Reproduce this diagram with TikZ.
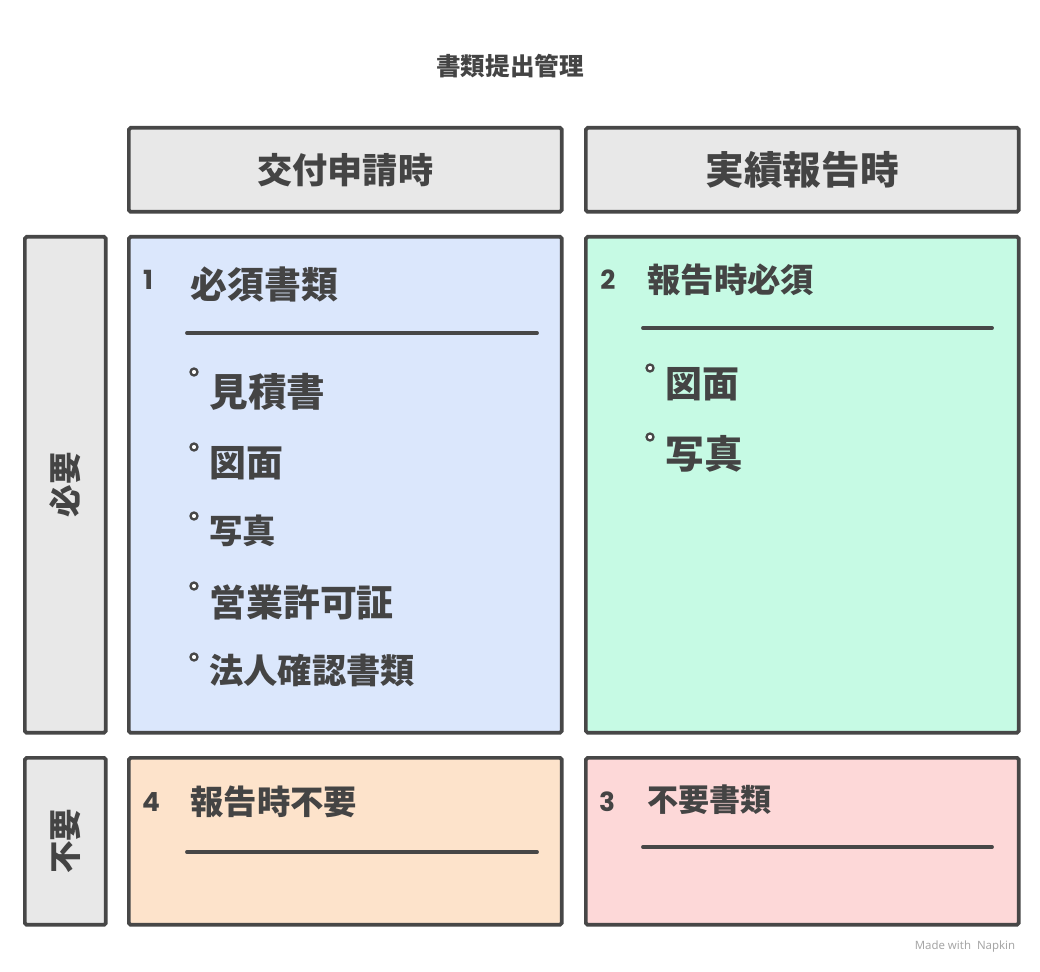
\documentclass[tikz,border=0pt]{standalone}
\usepackage{fontspec}
\setmainfont{Noto Sans CJK JP}
\newfontfamily\wmfont{Noto Sans}
\newfontfamily\numfont{Poppins}
\usetikzlibrary{positioning}
\definecolor{ink}{HTML}{444444}
\definecolor{edge}{HTML}{474747}
\definecolor{headgray}{HTML}{E8E8E8}
\definecolor{qblue}{HTML}{DBE7FC}
\definecolor{qgreen}{HTML}{C6FAE4}
\definecolor{qorange}{HTML}{FDE3CB}
\definecolor{qpink}{HTML}{FDD8D8}

\begin{document}
\begin{tikzpicture}[
  x=0.02cm, y=-0.02cm,
  panel/.style={draw=edge, line width=2.1pt, rounded corners=1pt, anchor=north west,
                inner sep=0pt},
  head/.style={panel, fill=headgray, minimum width=8.66cm, minimum height=1.68cm,
               font=\fontsize{20}{22}\selectfont\bfseries, text=ink},
  side/.style={panel, fill=headgray, minimum width=1.62cm},
  quad/.style={panel, minimum width=8.66cm},
  num/.style={font=\numfont\fontsize{15}{16}\selectfont\bfseries, text=ink},
  qtitle/.style={anchor=west, inner sep=0pt, font=\fontsize{19}{21}\selectfont\bfseries, text=ink},
  item/.style={anchor=west, inner sep=0pt, font=\fontsize{21}{23}\selectfont\bfseries, text=ink},
  dot/.style={circle, draw=edge, line width=1.3pt, fill=white, inner sep=0pt, minimum size=0.14cm},
  rule/.style={draw=edge, line width=2.2pt, line cap=round}
]
\useasboundingbox (0,0) rectangle (1040,972);

\node[font=\fontsize{14}{16}\selectfont\bfseries, text=ink] (title) at (510,66) {書類提出管理};

% column heads
\node[head] (hgrant) at (127,126) {交付申請時};
\node[head, font=\fontsize{22}{24}\selectfont\bfseries] (hreport) at (584,126) {実績報告時};

% row heads
\node[side, minimum height=9.92cm] (rneed) at (23,235) {};
\node[side, minimum height=3.34cm] (rnone) at (23,756) {};
\node[rotate=90, font=\fontsize{18.5}{20}\selectfont\bfseries, text=ink] (lneed) at (rneed.center) {必要};
\node[rotate=90, font=\fontsize{18.5}{20}\selectfont\bfseries, text=ink] (lnone) at (rnone.center) {不要};

% quadrants
\node[quad, fill=qblue, minimum height=9.92cm] (q1) at (127,235) {};
\node[quad, fill=qgreen, minimum height=9.92cm] (q2) at (584,235) {};
\node[quad, fill=qorange, minimum height=3.34cm] (q4) at (127,756) {};
\node[quad, fill=qpink, minimum height=3.34cm] (q3) at (584,756) {};

% quadrant 1
\node[num] (n1) at (148,280) {1};
\node[qtitle, font=\fontsize{21}{23}\selectfont\bfseries] (t1) at (190,284) {必須書類};
\coordinate (r1a) at (187,333);
\coordinate (r1b) at (537,333);
\draw[rule] (r1a) -- (r1b);
\node[dot] (d11) at (194,372) {};
\node[item, font=\fontsize{22}{24}\selectfont\bfseries] (i11) at (209,392) {見積書};
\node[dot] (d12) at (194,447) {};
\node[item] (i12) at (209,463) {図面};
\node[dot] (d13) at (194,516) {};
\node[item, font=\fontsize{19}{21}\selectfont\bfseries] (i13) at (209,531) {写真};
\node[dot] (d14) at (194,586) {};
\node[item] (i14) at (209,602) {営業許可証};
\node[dot] (d15) at (194,657) {};
\node[item, font=\fontsize{19.5}{21}\selectfont\bfseries] (i15) at (209,670) {法人確認書類};

% quadrant 2
\node[num] (n2) at (608,280) {2};
\node[qtitle] (t2) at (647,280) {報告時必須};
\coordinate (r2a) at (643,328);
\coordinate (r2b) at (992,328);
\draw[rule] (r2a) -- (r2b);
\node[dot] (d21) at (650,368) {};
\node[item] (i21) at (665,384) {図面};
\node[dot] (d22) at (650,437) {};
\node[item, font=\fontsize{22}{24}\selectfont\bfseries] (i22) at (665,454) {写真};

% quadrant 4
\node[num] (n4) at (151,802) {4};
\node[qtitle] (t4) at (190,802) {報告時不要};
\coordinate (r4a) at (187,852);
\coordinate (r4b) at (537,852);
\draw[rule] (r4a) -- (r4b);

% quadrant 3
\node[num] (n3) at (607,802) {3};
\node[qtitle, font=\fontsize{17.7}{19}\selectfont\bfseries] (t3) at (647,800) {不要書類};
\coordinate (r3a) at (643,847);
\coordinate (r3b) at (992,847);
\draw[rule] (r3a) -- (r3b);

\node[font=\wmfont\fontsize{6.5}{7}\selectfont, text=black!35] (wm) at (965,947) {Made with \ Napkin};
\end{tikzpicture}
\end{document}
